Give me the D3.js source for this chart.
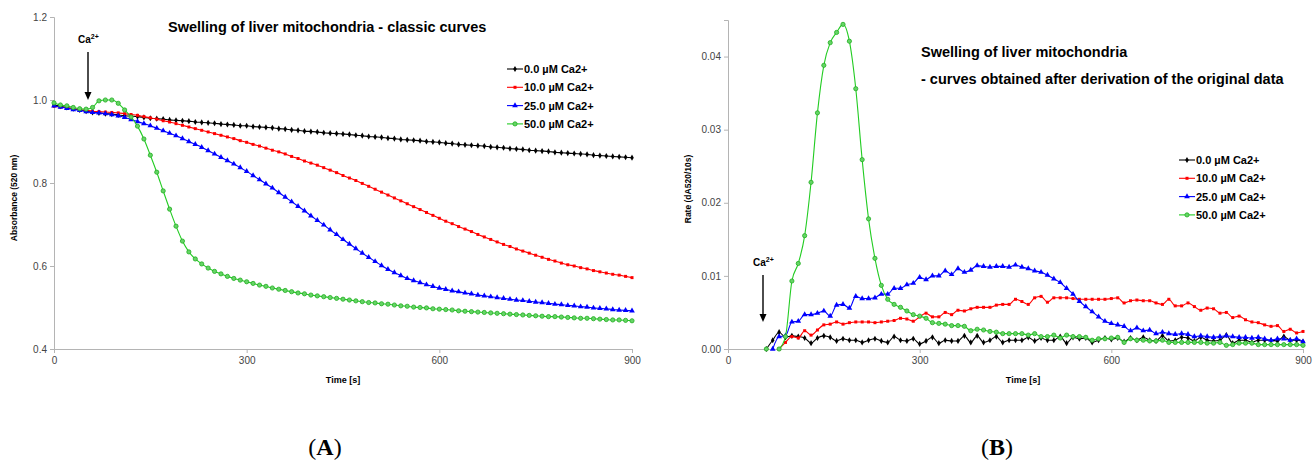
<!DOCTYPE html>
<meta charset="utf-8">
<style>
body { margin: 0; background: #fff; }
text { font-family: "Liberation Sans", Arial, sans-serif; }
</style>
<body>
<script src="https://cdnjs.cloudflare.com/ajax/libs/d3/7.8.5/d3.min.js"></script>
<script>

// ---- data ----
var legendLabels = ["0.0 µM Ca2+", "10.0 µM Ca2+", "25.0 µM Ca2+", "50.0 µM Ca2+"];
var xTicks = [0, 300, 600, 900];
var yTicksA = [0.4, 0.6, 0.8, 1.0, 1.2];
var yTicksB = [0, 0.01, 0.02, 0.03, 0.04];

// panel A: absorbance every 10 s, t = 0 .. 900
var timeA = d3.range(0, 901, 10);
var absBlack = [.988,.985,.982,.979,.976,.973,.970,.969,.967,.966,.964,.962,.961,.960,.958,.956,.955,.954,.952,.951,
  .950,.949,.947,.946,.945,.944,.942,.941,.940,.938,.938,.936,.935,.934,.933,.931,.930,.928,.927,.925,
  .924,.923,.921,.920,.919,.918,.917,.915,.914,.912,.911,.910,.908,.907,.905,.904,.903,.902,.900,.899,
  .898,.896,.895,.893,.892,.891,.890,.889,.887,.886,.885,.883,.882,.881,.879,.878,.877,.876,.874,.873,
  .872,.871,.870,.869,.867,.866,.865,.864,.863,.862,.861];
var absRed = [.985,.983,.981,.979,.977,.975,.973,.972,.971,.970,.969,.967,.965,.963,.960,.957,.954,.950,.947,.943,
  .939,.935,.931,.927,.923,.919,.915,.911,.907,.902,.898,.893,.889,.884,.879,.875,.870,.864,.859,.853,
  .848,.843,.837,.831,.825,.818,.812,.806,.799,.792,.785,.778,.771,.764,.757,.750,.743,.736,.729,.722,
  .715,.708,.702,.695,.689,.683,.676,.670,.664,.658,.652,.647,.641,.636,.631,.626,.621,.616,.612,.607,
  .603,.600,.596,.593,.589,.586,.583,.580,.578,.575,.572];
var absBlue = [.986,.983,.980,.977,.975,.972,.970,.969,.967,.965,.962,.958,.953,.948,.943,.938,.932,.926,.920,.914,
  .907,.900,.893,.886,.878,.870,.862,.854,.846,.837,.828,.818,.808,.798,.788,.777,.766,.755,.744,.733,
  .721,.710,.699,.687,.676,.664,.653,.642,.631,.621,.611,.601,.592,.584,.577,.570,.565,.560,.555,.551,
  .547,.544,.540,.538,.535,.533,.530,.528,.526,.524,.522,.520,.518,.517,.515,.513,.512,.510,.508,.507,
  .505,.504,.502,.501,.499,.498,.497,.495,.494,.493,.492];
var absGreen = [.993,.988,.986,.982,.979,.978,.982,.998,1.000,1.000,.992,.976,.959,.937,.906,.867,.826,.781,.737,.696,
  .660,.634,.617,.605,.595,.587,.581,.575,.570,.566,.562,.558,.554,.551,.547,.544,.541,.538,.535,.533,
  .530,.528,.526,.524,.522,.520,.518,.516,.514,.512,.511,.509,.508,.506,.504,.503,.501,.500,.499,.497,
  .496,.495,.494,.492,.491,.490,.489,.488,.487,.486,.485,.484,.483,.482,.481,.480,.479,.478,.478,.477,
  .476,.475,.474,.474,.473,.472,.471,.470,.470,.469,.468];

// panel B: rate (dA520/10s) every 10 s, t = 60 .. 900 (null = no value yet)
var timeB = d3.range(60, 901, 10);
var rateBlack = [0,.0012,.0023,.0016,.0018,.0017,.0015,.0008,.0015,.0018,.0016,.0011,.0014,.0012,.0012,.0009,.0012,.0014,.0011,.0009,
  .0017,.0012,.0011,.0014,.0007,.0011,.0016,.0008,.0012,.0011,.0011,.0018,.0009,.0018,.0009,.0012,.0017,.0009,.0012,.0012,
  .0012,.0016,.0011,.0015,.0012,.0012,.0017,.0008,.0016,.0014,.0015,.0009,.0012,.0015,.0013,.0015,.0010,.0015,.0012,.0016,
  .0012,.0011,.0018,.0011,.0012,.0016,.0015,.0011,.0016,.0012,.0011,.0012,.0019,.0008,.0012,.0012,.0009,.0012,.0012,.0012,
  .0011,.0017,.0012,.0012,.0010];
var rateRed = [null,null,0,.0009,.0017,.0015,.0025,.0019,.0026,.0033,.0034,.0037,.0034,.0036,.0037,.0037,.0037,.0036,.0037,.0038,
  .0039,.0042,.0041,.0038,.0044,.0049,.0044,.0044,.0050,.0047,.0053,.0052,.0055,.0057,.0057,.0057,.0060,.0061,.0061,.0068,
  .0065,.0061,.0070,.0072,.0064,.0070,.0070,.0070,.0069,.0068,.0068,.0068,.0068,.0068,.0069,.0070,.0063,.0066,.0067,.0066,
  .0066,.0063,.0061,.0068,.0059,.0059,.0063,.0058,.0053,.0056,.0055,.0049,.0050,.0043,.0045,.0040,.0037,.0036,.0033,.0031,
  .0032,.0024,.0027,.0022,.0024];
var rateBlue = [null,0,.0017,.0018,.0037,.0038,.0047,.0047,.0049,.0052,.0045,.0060,.0061,.0056,.0072,.0069,.0069,.0070,.0075,.0075,
  .0083,.0083,.0088,.0090,.0098,.0095,.0100,.0100,.0107,.0102,.0110,.0105,.0108,.0114,.0113,.0112,.0113,.0113,.0112,.0115,
  .0112,.0110,.0107,.0105,.0101,.0096,.0091,.0083,.0075,.0065,.0058,.0051,.0044,.0038,.0035,.0033,.0031,.0025,.0029,.0025,
  .0026,.0021,.0023,.0021,.0020,.0021,.0020,.0017,.0018,.0017,.0016,.0017,.0018,.0017,.0016,.0016,.0015,.0016,.0014,.0012,
  .0014,.0014,.0012,.0014,.0010];
var rateGreen = [0,null,0,.0017,.0093,.0117,.0155,.0228,.0323,.0388,.0419,.0433,.0444,.0421,.0356,.0259,.0178,.0124,.0087,.0068,
  .0061,.0057,.0052,.0047,.0045,.0042,.0036,.0035,.0034,.0032,.0032,.0031,.0025,.0027,.0026,.0024,.0023,.0021,.0021,.0021,
  .0021,.0019,.0021,.0017,.0017,.0019,.0015,.0019,.0017,.0017,.0016,.0012,.0014,.0014,.0015,.0016,.0009,.0014,.0012,.0012,
  .0011,.0011,.0012,.0009,.0009,.0009,.0009,.0009,.0009,.0008,.0008,.0009,.0005,.0006,.0008,.0008,.0008,.0006,.0006,.0006,
  .0006,.0006,.0006,.0006,.0005];

// ---- styles ----
var colors = ["#000000", "#ff0000", "#0000ff", "#22cc22"];
var markerFill = ["#000000", "#ff0000", "#0000ff", "#66d466"];
var symbols = [d3.symbolDiamond, d3.symbolSquare, d3.symbolTriangle, d3.symbolCircle];
var symSize = [11, 9, 14, 14];

var svg = d3.select("body").append("svg")
    .attr("width", 1315)
    .attr("height", 461);

function panel(opt) {
  var x = d3.scaleLinear().domain([0, 900]).range([opt.x0, opt.x1]);
  var y = d3.scaleLinear().domain(opt.yDomain).range([opt.y0, opt.y1]);
  var g = svg.append("g");

  var gx = g.append("g")
      .attr("transform", "translate(0," + opt.y0 + ")")
      .call(d3.axisBottom(x).tickValues(xTicks).tickSize(4).tickPadding(4));
  var gy = g.append("g")
      .attr("transform", "translate(" + opt.x0 + ",0)")
      .call(d3.axisLeft(y).tickValues(opt.yTicks).tickFormat(d3.format(opt.fmt)).tickSize(4).tickPadding(3));
  [gx, gy].forEach(function(a) {
    a.select(".domain").attr("stroke", "#b4b4b4");
    a.selectAll(".tick line").attr("stroke", "#b4b4b4");
    a.selectAll(".tick text").attr("fill", "#444").style("font-size", "10px");
  });

  opt.series.forEach(function(vals, i) {
    var pts = opt.time.map(function(t, j) { return [t, vals[j]]; });
    var line = d3.line()
        .defined(function(d) { return d[1] != null; })
        .x(function(d) { return x(d[0]); })
        .y(function(d) { return y(d[1]); })
        .curve(d3.curveMonotoneX);
    g.append("path")
        .attr("d", line(pts))
        .attr("fill", "none")
        .attr("stroke", colors[i])
        .attr("stroke-width", 1.1);
    g.selectAll(null)
        .data(pts.filter(function(d) { return d[1] != null; }))
      .enter().append("path")
        .attr("transform", function(d) { return "translate(" + x(d[0]) + "," + y(d[1]) + ")"; })
        .attr("d", d3.symbol().type(symbols[i]).size(symSize[i]))
        .attr("fill", markerFill[i])
        .attr("stroke", i == 3 ? "#1fae1f" : "none")
        .attr("stroke-width", 0.8);
  });

  // axis titles
  g.append("text")
      .attr("x", opt.xLabel[0]).attr("y", opt.xLabel[1])
      .attr("text-anchor", "middle")
      .style("font-size", "9px").style("font-weight", "bold")
      .text("Time [s]");
  g.append("text")
      .attr("transform", "translate(" + opt.yLabel[0] + "," + opt.yLabel[1] + ") rotate(-90)")
      .attr("text-anchor", "middle")
      .style("font-size", "8.5px").style("font-weight", "bold")
      .text(opt.yTitle);

  // legend
  legendLabels.forEach(function(lab, i) {
    var ly = opt.legend[1] + i * opt.legend[2];
    var lx = opt.legend[0];
    g.append("line")
        .attr("x1", lx).attr("x2", lx + 16).attr("y1", ly).attr("y2", ly)
        .attr("stroke", colors[i]).attr("stroke-width", 1.1);
    g.append("path")
        .attr("transform", "translate(" + (lx + 8) + "," + ly + ")")
        .attr("d", d3.symbol().type(symbols[i]).size(symSize[i]))
        .attr("fill", markerFill[i])
        .attr("stroke", i == 3 ? "#1fae1f" : "none")
        .attr("stroke-width", 0.8);
    g.append("text")
        .attr("x", lx + 17).attr("y", ly + 4)
        .style("font-size", "11px").style("font-weight", "bold")
        .text(lab);
  });

  // Ca2+ arrow
  var ax = opt.arrow[0], ay0 = opt.arrow[1], ay1 = opt.arrow[2];
  var ca = g.append("text")
      .attr("x", ax - 10).attr("y", ay0 - 9)
      .style("font-size", "10px").style("font-weight", "bold");
  ca.append("tspan").text("Ca");
  ca.append("tspan").attr("dy", -4).style("font-size", "7px").text("2+");
  g.append("line")
      .attr("x1", ax).attr("x2", ax).attr("y1", ay0).attr("y2", ay1 - 6)
      .attr("stroke", "#000").attr("stroke-width", 1.4);
  g.append("path")
      .attr("d", "M" + (ax - 3.5) + "," + (ay1 - 8) + "L" + (ax + 3.5) + "," + (ay1 - 8) + "L" + ax + "," + ay1 + "Z")
      .attr("fill", "#000");

  // title lines
  opt.title.forEach(function(t) {
    g.append("text")
        .attr("x", t[1]).attr("y", t[2])
        .style("font-size", "14.5px").style("font-weight", "bold")
        .text(t[0]);
  });

  // panel tag
  var tag = svg.append("text")
      .attr("x", opt.tag).attr("y", 455)
      .attr("text-anchor", "middle")
      .style("font-family", "'Liberation Serif', 'Times New Roman', serif")
      .style("font-size", "24px");
  tag.append("tspan").text("(");
  tag.append("tspan").style("font-weight", "bold").text(opt.tagLetter);
  tag.append("tspan").text(")");
}

panel({
  x0: 54, x1: 632, y0: 349, y1: 17,
  yDomain: [0.4, 1.2], yTicks: yTicksA, fmt: ".1f",
  time: timeA, series: [absBlack, absRed, absBlue, absGreen],
  xLabel: [343, 383], yLabel: [17, 198], yTitle: "Absorbance (520 nm)",
  legend: [507, 69, 18.3],
  arrow: [88, 52, 100],
  title: [["Swelling of liver mitochondria - classic curves", 168, 32]],
  tag: 325, tagLetter: "A"
});

panel({
  x0: 728, x1: 1303, y0: 349, y1: 20,
  yDomain: [0, 0.045], yTicks: yTicksB, fmt: ".2f",
  time: timeB, series: [rateBlack, rateRed, rateBlue, rateGreen],
  xLabel: [1023, 383], yLabel: [691, 189], yTitle: "Rate (dA520/10s)",
  legend: [1179, 160, 18.3],
  arrow: [763, 275, 322],
  title: [["Swelling of liver mitochondria", 921, 57], ["- curves obtained after derivation of the original data", 921, 84]],
  tag: 997, tagLetter: "B"
});

</script>
